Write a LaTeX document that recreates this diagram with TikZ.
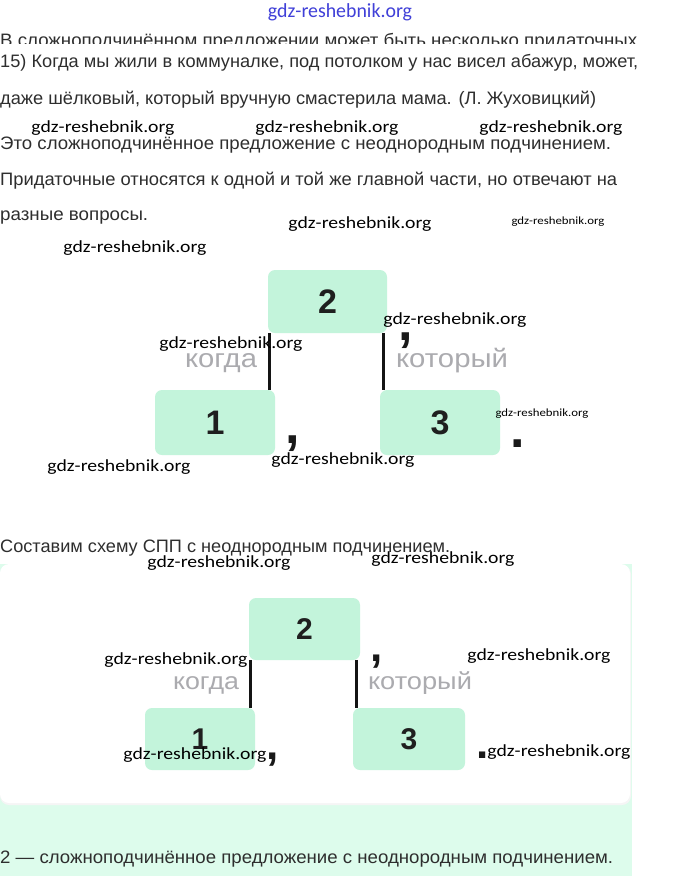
\documentclass[tikz,border=0pt]{standalone}
\usepackage{fontspec}
\usepackage{graphicx}
\setmainfont{Liberation Sans}
\newfontfamily\wmfont{Carlito}
\definecolor{boxgreen}{HTML}{C3F4DB}
\definecolor{bggreen}{HTML}{DDFCEC}
\definecolor{bodytext}{HTML}{2E2E2E}
\definecolor{lblgray}{HTML}{ABABAF}
\definecolor{wmblue}{HTML}{4040D8}
\newcommand{\fitw}[2]{\resizebox{#1}{\height}{#2}}
\newcommand{\wmtxt}{gdz-reshebnik.org}
\begin{document}
\begin{tikzpicture}[x=1pt,y=-1pt,
  body/.style={anchor=base west, inner sep=0, text=bodytext, font=\fontsize{18}{20}\selectfont},
  wm/.style={inner sep=0, text=black, font=\wmfont\fontsize{17}{17}\selectfont},
  wms/.style={inner sep=0, text=black, font=\wmfont\fontsize{11}{11}\selectfont},
  numbox/.style={fill=boxgreen, rounded corners=7pt, inner sep=0, text=black!88, font=\bfseries\fontsize{34}{34}\selectfont},
  numboxs/.style={fill=boxgreen, rounded corners=7pt, inner sep=0, text=black!88, font=\bfseries\fontsize{30}{30}\selectfont},
  lbl/.style={anchor=base, inner sep=0, text=lblgray, font=\fontsize{26}{26}\selectfont},
  lbls/.style={anchor=base, inner sep=0, text=lblgray, font=\fontsize{24}{24}\selectfont},
  punct/.style={anchor=base, inner sep=0, text=black!90, font=\bfseries\fontsize{52}{52}\selectfont},
  puncts/.style={anchor=base, inner sep=0, text=black!90, font=\bfseries\fontsize{44}{44}\selectfont},
  link/.style={line width=3pt, draw=black!92}
]
\useasboundingbox (0,0) rectangle (680,876);
\fill[white] (0,0) rectangle (680,876);

% top blue watermark
\node[inner sep=0, text=wmblue, font=\wmfont\fontsize{20}{20}\selectfont] (topwm) at (340,12) {\fitw{144pt}{\wmtxt}};

% cut-off first line
\begin{scope}
\clip (0,25) rectangle (680,43);
\node[body] (cut) at (0,46) {\fitw{637pt}{В сложноподчинённом предложении может быть несколько придаточных}};
\end{scope}

\node[body] (t1) at (0,67) {\fitw{638pt}{15) Когда мы жили в коммуналке, под потолком у нас висел абажур, может,}};
\node[body] (t2) at (0,104) {\fitw{596pt}{даже шёлковый, который вручную смастерила мама. (Л. Жуховицкий)}};
\node[body] (t3) at (0,149) {\fitw{611pt}{Это сложноподчинённое предложение с неоднородным подчинением.}};
\node[body] (t4) at (0,185) {\fitw{617pt}{Придаточные относятся к одной и той же главной части, но отвечают на}};
\node[body] (t5) at (0,220) {\fitw{148pt}{разные вопросы.}};

% diagram 1
\node[numbox, minimum width=119pt, minimum height=63pt] (a2) at (327.5,301.5) {2};
\node[numbox, minimum width=120pt, minimum height=65pt] (a1) at (215,422.5) {1};
\node[numbox, minimum width=120pt, minimum height=65pt] (a3) at (440,422.5) {3};
\draw[link] ([xshift=2pt]a2.south west) -- ([xshift=2pt]a2.south west |- a1.north);
\draw[link] ([xshift=-4pt]a2.south east) -- ([xshift=-4pt]a2.south east |- a3.north);
\node[lbl] (ak) at (221,367) {\fitw{72pt}{когда}};
\node[lbl] (akt) at (452,367) {\fitw{112pt}{который}};
\node[punct] (ac1) at (406,340) {,};
\node[punct] (ac2) at (293,443) {,};
\node[punct] (ap) at (518,447) {.};

\node[body] (t6) at (0,552) {\fitw{450pt}{Составим схему СПП с неоднородным подчинением.}};

% bottom panel
\fill[bggreen] (0,564) rectangle (632,876);
\fill[black!4, rounded corners=9pt] (0,565) rectangle (631,805);
\fill[white, rounded corners=9pt] (0,564) rectangle (630,803);

% diagram 2
\node[numboxs, minimum width=111pt, minimum height=62pt] (b2) at (304.5,629) {2};
\node[numboxs, minimum width=110pt, minimum height=62pt] (b1) at (200,739) {1};
\node[numboxs, minimum width=112pt, minimum height=62pt] (b3) at (409,739) {3};
\draw[link] ([xshift=2pt]b2.south west) -- ([xshift=2pt]b2.south west |- b1.north);
\draw[link] ([xshift=-4pt]b2.south east) -- ([xshift=-4pt]b2.south east |- b3.north);
\node[lbls] (bk) at (206,689) {\fitw{66pt}{когда}};
\node[lbls] (bkt) at (420,689) {\fitw{104pt}{который}};
\node[puncts] (bc1) at (377,661) {,};
\node[puncts] (bc2) at (273,759) {,};
\node[puncts] (bp) at (483,758) {.};

\node[body] (t7) at (0,863) {\fitw{613pt}{2 — сложноподчинённое предложение с неоднородным подчинением.}};

% watermarks
\node[wm] (w1) at (103,128) {\fitw{143pt}{\wmtxt}};
\node[wm] (w2) at (327,128) {\fitw{143pt}{\wmtxt}};
\node[wm] (w3) at (551,128) {\fitw{143pt}{\wmtxt}};
\node[wm] (w4) at (360,224) {\fitw{143pt}{\wmtxt}};
\node[wms] (w5) at (558,222) {\fitw{93pt}{\wmtxt}};
\node[wm] (w6) at (135,248) {\fitw{143pt}{\wmtxt}};
\node[wm] (w7) at (231,344) {\fitw{143pt}{\wmtxt}};
\node[wm] (w8) at (455,320) {\fitw{143pt}{\wmtxt}};
\node[wms] (w9) at (542,414) {\fitw{93pt}{\wmtxt}};
\node[wm] (w10) at (119,467) {\fitw{143pt}{\wmtxt}};
\node[wm] (w11) at (343,460) {\fitw{143pt}{\wmtxt}};
\node[wm] (w12) at (219,563) {\fitw{143pt}{\wmtxt}};
\node[wm] (w13) at (443,559) {\fitw{143pt}{\wmtxt}};
\node[wm] (w14) at (176,660) {\fitw{143pt}{\wmtxt}};
\node[wm] (w15) at (539,656) {\fitw{143pt}{\wmtxt}};
\node[wm] (w16) at (195,755) {\fitw{143pt}{\wmtxt}};
\node[wm] (w17) at (559,752) {\fitw{143pt}{\wmtxt}};
\end{tikzpicture}
\end{document}
